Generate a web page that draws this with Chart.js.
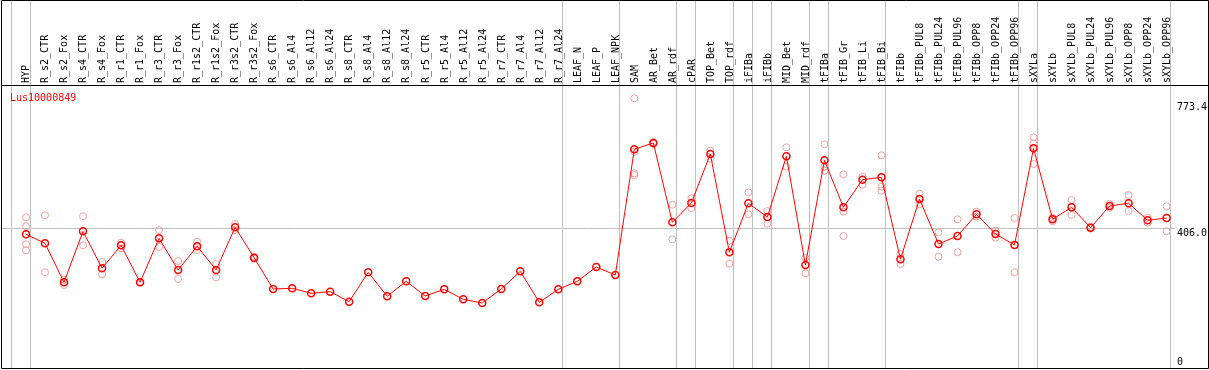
<!DOCTYPE html>
<html><head><meta charset="utf-8">
<script src="https://cdn.jsdelivr.net/npm/chart.js@4"></script>
<style>html,body{margin:0;padding:0;background:#fff}canvas{display:block}</style>
</head><body>
<canvas id="c" width="1209" height="370"></canvas>
<script>
const geneName = "Lus10000849";
const categories = ["HYP","R_s2_CTR","R_s2_Fox","R_s4_CTR","R_s4_Fox","R_r1_CTR","R_r1_Fox","R_r3_CTR","R_r3_Fox","R_r1s2_CTR","R_r1s2_Fox","R_r3s2_CTR","R_r3s2_Fox","R_s6_CTR","R_s6_Al4","R_s6_Al12","R_s6_Al24","R_s8_CTR","R_s8_Al4","R_s8_Al12","R_s8_Al24","R_r5_CTR","R_r5_Al4","R_r5_Al12","R_r5_Al24","R_r7_CTR","R_r7_Al4","R_r7_Al12","R_r7_Al24","LEAF_N","LEAF_P","LEAF_NPK","SAM","AR_Bet","AR_rdf","cPAR","TOP_Bet","TOP_rdf","iFIBa","iFIBb","MID_Bet","MID_rdf","tFIBa","tFIB_Gr","tFIB_Li","tFIB_Bi","tFIBb","tFIBb_PUL8","tFIBb_PUL24","tFIBb_PUL96","tFIBb_OPP8","tFIBb_OPP24","tFIBb_OPP96","sXYLa","sXYLb","sXYLb_PUL8","sXYLb_PUL24","sXYLb_PUL96","sXYLb_OPP8","sXYLb_OPP24","sXYLb_OPP96"];
const means = [388.8,362.6,249.2,397.5,289.9,356.8,249.2,377.1,285.0,353.9,285.0,409.1,320.7,229.7,231.8,217.2,221.9,192.8,278.3,208.5,252.1,209.4,228.8,199.8,189.0,229.7,281.2,191.0,228.8,252.1,293.7,270.4,635.9,654.3,423.7,479.8,622.3,336.4,478.9,439.1,615.6,299.5,603.9,467.3,547.5,554.5,316.1,491.4,360.6,383.8,446.9,389.6,357.7,638.8,432.4,467.3,408.0,471.1,478.9,429.5,436.2];
const replicates = [
 [438.2,412.0,359.7,342.2],
 [444.0,278.3],
 [256.8,241.3],
 [441.1,356.8],
 [308.2,272.5],
 [364.3,348.1],
 [250.1,248.3],
 [401.3,351.8],
 [311.1,258.8],
 [367.3,343.1],
 [302.4,263.7],
 [418.7,401.3],
 [323.6,317.8],
 [],[],[],[],[],[],[],[],[],[],[],[],[],[],[],[],[],[],[],
 [784.2,629.0,566.1,561.2],
 [657.2,651.3],
 [474.8,374.2],
 [493.5,465.2],
 [631.9,608.6],
 [370.2,303.3],
 [510.9,446.9],
 [456.5,419.6],
 [641.8,585.3],
 [320.7,275.4],
 [650.5,585.3,573.7],
 [563.2,454.5,383.8],
 [556.3,533.0],
 [618.5,527.2,515.6],
 [331.5,302.4],
 [506.8,476.9],
 [394.6,323.6],
 [432.4,336.4],
 [454.5,440.0],
 [399.2,378.9],
 [436.2,278.3],
 [670.8,653.4,593.2],
 [437.0,426.6],
 [488.5,444.9],
 [410.9,405.1],
 [476.9,466.1],
 [503.1,456.5],
 [437.0,422.5],
 [470.2,397.5]
];
const yTickValues = [0, 406.0, 773.4];
const separatorsAfter = [-1,0,28,31,34,35,37,38,39,41,42,45,52,53,60];

const meanPoints = means.map((v,i)=>({x:i,y:v}));
const repPoints = [];
replicates.forEach((arr,i)=>arr.forEach(v=>repPoints.push({x:i,y:v})));

const FONT = "'DejaVu Sans Mono', monospace";

const framePlugin = {
  id:'frame',
  beforeDatasetsDraw(chart){
    const {ctx, chartArea, scales:{x}} = chart;
    ctx.save();
    ctx.strokeStyle = '#c0c0c0'; ctx.lineWidth = 1;
    separatorsAfter.forEach(i=>{
      const px = Math.floor(x.getPixelForValue(i+0.23))+0.5;
      ctx.beginPath(); ctx.moveTo(px,0); ctx.lineTo(px,chartArea.bottom); ctx.stroke();
    });
    ctx.restore();
  },
  afterDraw(chart){
    const {ctx, chartArea} = chart;
    ctx.save();
    ctx.strokeStyle = '#000'; ctx.lineWidth = 1;
    ctx.beginPath();
    ctx.rect(1.5, 0.5, chart.width-2, chartArea.bottom);
    ctx.moveTo(1.5, chartArea.top-0.5); ctx.lineTo(chart.width-0.5, chartArea.top-0.5);
    ctx.stroke();
    ctx.fillStyle = '#ff0000'; ctx.font = '10px ' + FONT; ctx.textBaseline = 'alphabetic'; ctx.textAlign='left';
    ctx.fillText(geneName, 10, 101);
    ctx.restore();
  }
};

new Chart(document.getElementById('c'), {
  type: 'line',
  data: {
    datasets: [
      { type:'line', label:'mean', data: meanPoints, borderColor:'#ff0000', borderWidth:1,
        pointRadius:3.5, pointBorderWidth:1.5, pointBorderColor:'#ff0000', pointBackgroundColor:'rgba(0,0,0,0)',
        tension:0, order:0, clip:false },
      { type:'scatter', label:'replicates', data: repPoints, showLine:false,
        pointRadius:3.5, pointBorderWidth:1, pointBorderColor:'#f0a0a0', pointBackgroundColor:'rgba(0,0,0,0)',
        order:1, clip:false }
    ]
  },
  options: {
    responsive:false, animation:false, devicePixelRatio:1, events:[],
    layout:{ padding:{left:2,right:0,top:0,bottom:2}, autoPadding:false },
    plugins:{ legend:{display:false}, tooltip:{enabled:false}, title:{display:false} },
    scales:{
      x:{
        type:'linear', position:'top', min:-1.2625, max:60.442, bounds:'data',
        afterBuildTicks: s => { s.ticks = categories.map((_,i)=>({value:i})); },
        afterFit: s => { s.height = 86; s.paddingLeft = 0; s.paddingRight = 0; },
        grid:{display:false, drawTicks:false},
        border:{display:false},
        ticks:{ autoSkip:false, minRotation:90, maxRotation:90, padding:3, labelOffset:12.7, color:'#000',
          font:{family:FONT, size:10}, callback:(v,i)=>categories[i] }
      },
      y:{
        type:'linear', position:'right', min:0, max:820, bounds:'data',
        afterBuildTicks: s => { s.ticks = yTickValues.map(v=>({value:v})); },
        afterFit: s => { s.width = 34; s.paddingTop = 0; s.paddingBottom = 0; },
        grid:{ drawTicks:false, color: c => (c.tick && c.tick.value === 406) ? '#c0c0c0' : 'rgba(0,0,0,0)' },
        border:{display:false},
        ticks:{ padding:2, align:'start', color:'#000', font:{family:FONT, size:10, lineHeight:1.05},
          callback:(v)=> v === 0 ? ['0','',''] : Number(v).toFixed(1) }
      }
    }
  },
  plugins:[framePlugin]
});
</script>
</body></html>
